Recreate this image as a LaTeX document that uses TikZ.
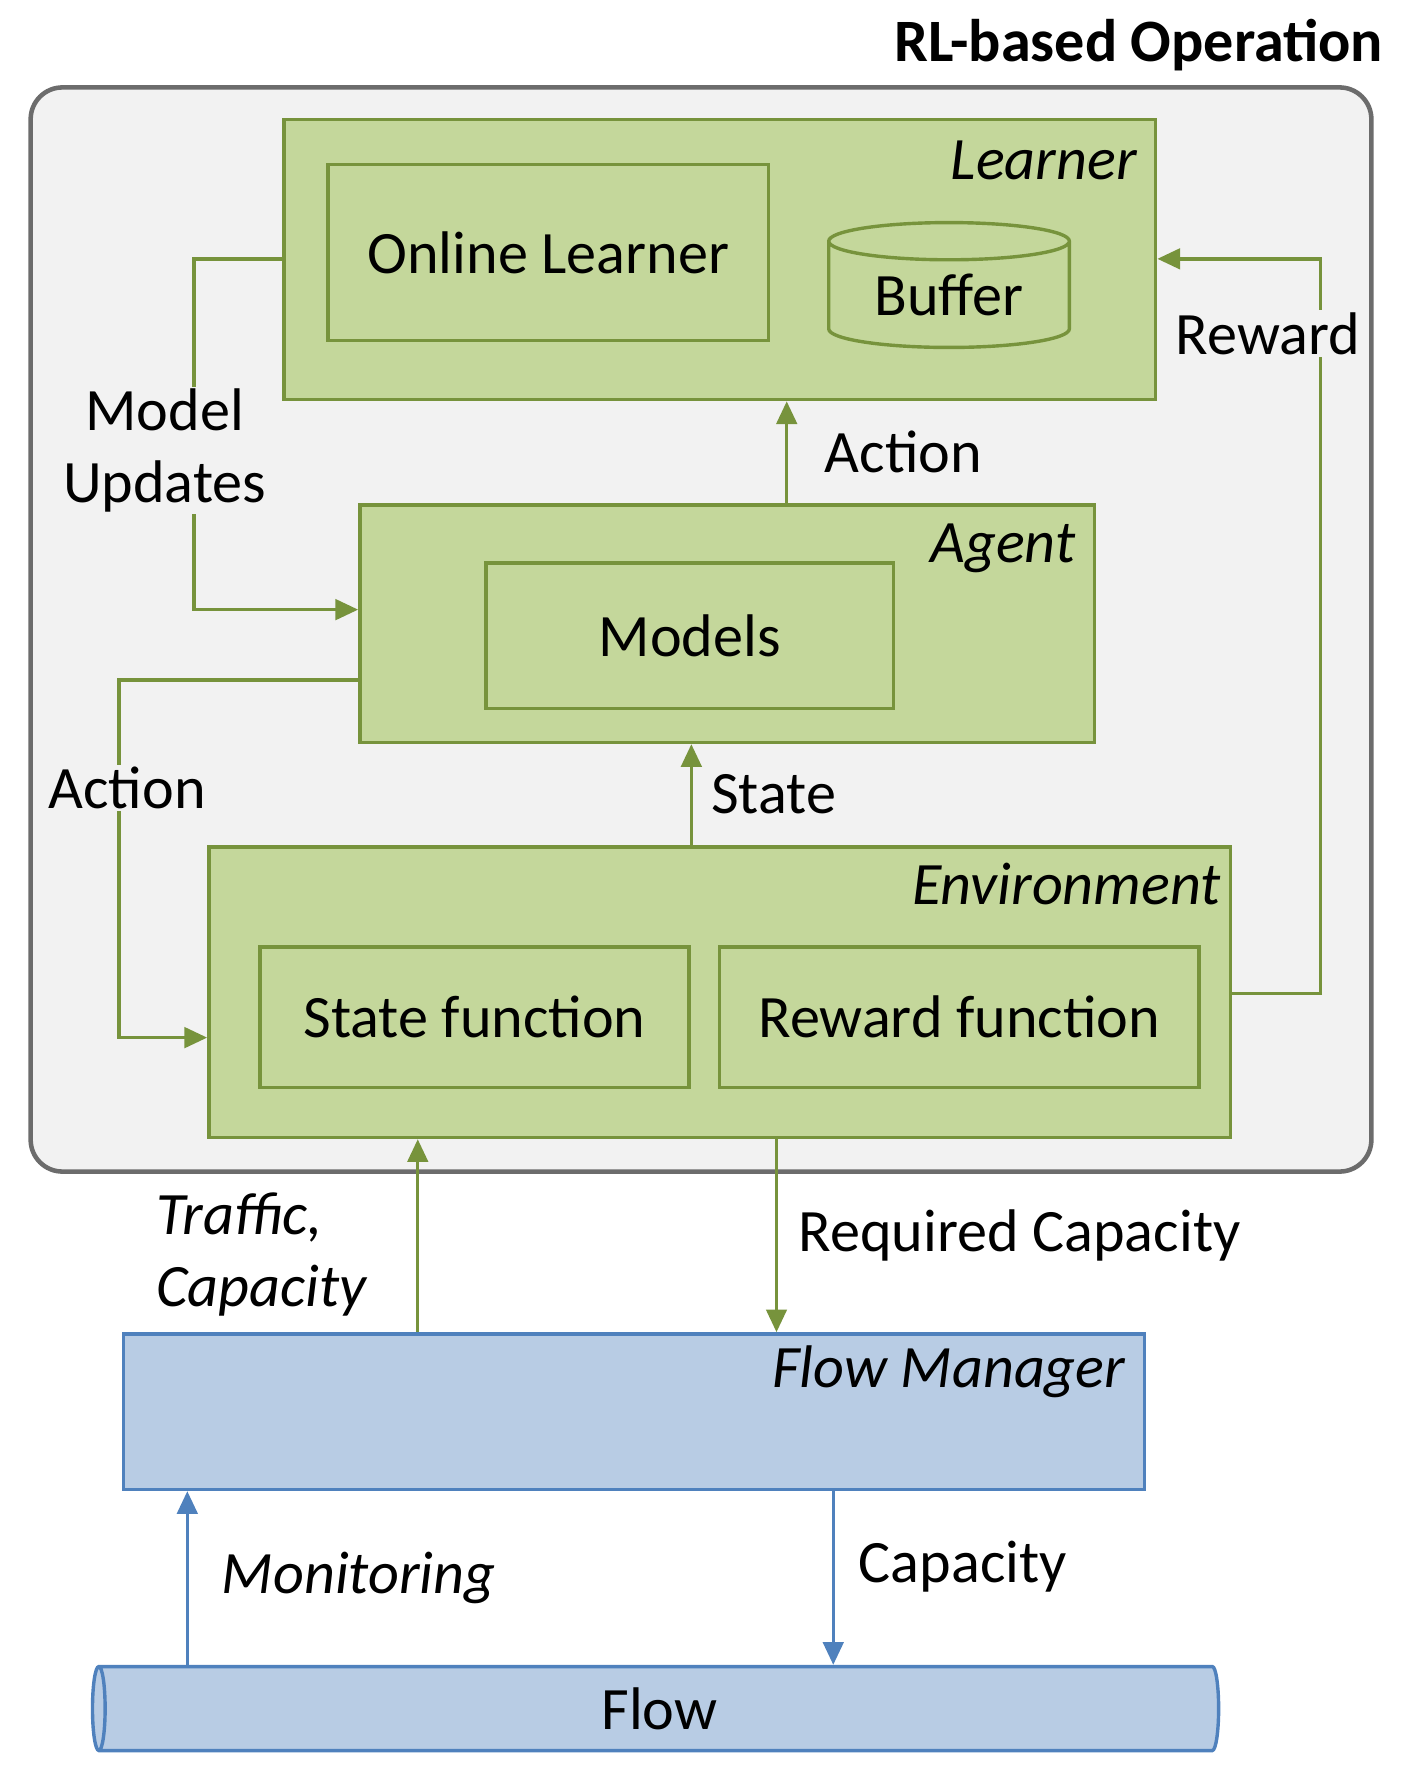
\documentclass[tikz,border=0pt]{standalone}
\usepackage{fontspec}
\setmainfont{Carlito}
\usetikzlibrary{shapes.geometric,arrows.meta,positioning}
\definecolor{grnfill}{HTML}{C4D79B}
\definecolor{grnline}{HTML}{77933C}
\definecolor{blufill}{HTML}{B8CCE4}
\definecolor{bluline}{HTML}{4F81BD}
\definecolor{bgfill}{HTML}{F2F2F2}
\newcommand{\bigfont}{\fontsize{53}{63}\selectfont}
\tikzset{
  gbox/.style={draw=grnline,fill=grnfill,line width=3pt,inner sep=0pt},
  bbox/.style={draw=bluline,fill=blufill,line width=3pt,inner sep=0pt},
  garrow/.style={draw=grnline,line width=3pt,-{Triangle[length=20pt,width=18pt]}},
  barrow/.style={draw=bluline,line width=3pt,-{Triangle[length=20pt,width=18pt]}},
  lbl/.style={inner sep=2pt,align=center},
  tag/.style={font=\bigfont\itshape,anchor=north east,inner sep=0pt}
}
\begin{document}
\begin{tikzpicture}[x=1pt,y=-1pt,font=\bigfont]
  \useasboundingbox (0,0) rectangle (1240,1575);
  \node[anchor=east,font=\bigfont\bfseries] (title) at (1222,40) {RL-based Operation};
  \draw[draw=gray!85!black,fill=bgfill,line width=4pt,rounded corners=28pt] (27,77) rectangle (1208,1032);

  % learner
  \node[gbox,minimum width=768pt,minimum height=247pt] (learner) at (634,228.5) {};
  \node[tag] at ([xshift=-18pt,yshift=-20pt]learner.north east) {Learner};
  \node[gbox,minimum width=388pt,minimum height=155pt] (online) at (483,222.5) {Online Learner};
  \node[gbox,cylinder,shape border rotate=90,aspect=0.25,minimum width=212pt,minimum height=110pt] (buffer) at (836,260) {Buffer};

  % agent
  \node[gbox,minimum width=647pt,minimum height=209pt] (agent) at (640.5,549.5) {};
  \node[tag] at ([xshift=-18pt,yshift=-18pt]agent.north east) {Agent};
  \node[gbox,minimum width=359pt,minimum height=128pt] (models) at (607.5,560) {Models};

  % environment
  \node[gbox,minimum width=900pt,minimum height=256pt] (env) at (634,874) {};
  \node[tag] at ([xshift=-10pt,yshift=-16pt]env.north east) {Environment};
  \node[gbox,minimum width=378pt,minimum height=124pt] (statef) at (418,896) {State function};
  \node[gbox,minimum width=422pt,minimum height=124pt] (rewardf) at (845,896) {Reward function};

  % flow manager and flow
  \node[bbox,minimum width=899pt,minimum height=137pt] (fm) at (558.5,1243.5) {};
  \node[tag] at ([xshift=-18pt,yshift=-12pt]fm.north east) {Flow Manager};
  \node[bbox,cylinder,shape border rotate=180,aspect=0.3,minimum width=74pt,minimum height=992pt] (flow) at (581,1505) {Flow};

  % connectors
  \draw[garrow] (agent.north -| 693,0) -- (learner.south -| 693,0) node[lbl,midway,right=30pt] {Action};
  \draw[garrow] (env.north -| 609,0) -- (agent.south -| 609,0) node[lbl,midway,right=14pt] {State};
  \draw[garrow] (learner.west |- 0,228) -| (171,537) -- (agent.west |- 0,537);
  \node[lbl,fill=bgfill] (upd) at (145,397) {Model\\Updates};
  \draw[garrow] (agent.west |- 0,599) -| (105,914) -- (env.west |- 0,914);
  \node[lbl,fill=bgfill] (act) at (112,694) {Action};
  \draw[garrow] (env.east |- 0,875) -| (1163,228) -- (learner.east |- 0,228);
  \node[lbl,fill=bgfill] (rew) at (1117,294) {Reward};
  \draw[garrow] (fm.north -| 368,0) -- (env.south -| 368,0);
  \node[lbl,font=\bigfont\itshape,align=left] (traf) at (230,1105) {Traffic,\\Capacity};
  \draw[garrow] (env.south -| 684,0) -- (fm.north -| 684,0) node[lbl,midway,right=16pt] {Required Capacity};
  \draw[barrow] (flow.north -| 165,0) -- (fm.south -| 165,0);
  \node[lbl,font=\bigfont\itshape] (mon) at (316,1390) {Monitoring};
  \draw[barrow] (fm.south -| 734,0) -- (flow.north -| 734,0);
  \node[lbl] (cap) at (848,1380) {Capacity};
\end{tikzpicture}
\end{document}
